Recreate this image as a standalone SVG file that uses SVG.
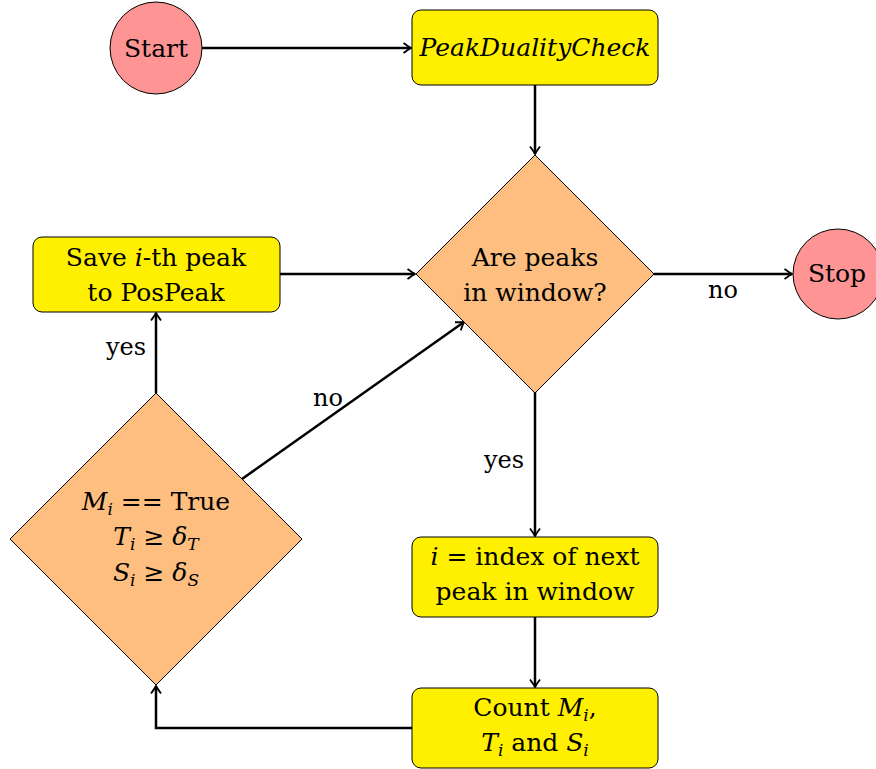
<svg xmlns="http://www.w3.org/2000/svg" width="876" height="769" viewBox="0 0 876 769">
<style>
text{font-size:25px;fill:#000;text-anchor:middle}
.box{fill:#FFF000;stroke:#000;stroke-width:1}
.dec{fill:#FDBE7F;stroke:#000;stroke-width:1}
.term{fill:#FF9494;stroke:#000;stroke-width:1}
.it{font-style:italic}
.sub{font-size:17px;font-style:italic}
.lbl{font-size:24px}
.conn{fill:none;stroke:#000;stroke-width:2.5}
</style>
<defs>
<marker id="arr" markerWidth="12" markerHeight="12" refX="0" refY="0" viewBox="-8 -6 10 12" orient="auto" markerUnits="userSpaceOnUse">
<path d="M-7.5,-5 Q-2,-1 0,0 Q-2,1 -7.5,5" fill="none" stroke="#000" stroke-width="1.8"/>
</marker>
</defs>
<g font-family="DejaVu Serif, serif">
<g id="connectors">
<path class="conn" d="M202 48 H411" marker-end="url(#arr)"/>
<path class="conn" d="M535 85 V154" marker-end="url(#arr)"/>
<path class="conn" d="M280 274 H415" marker-end="url(#arr)"/>
<path class="conn" d="M654 274 H792" marker-end="url(#arr)"/>
<path class="conn" d="M535 392 V536" marker-end="url(#arr)"/>
<path class="conn" d="M535 617 V687" marker-end="url(#arr)"/>
<path class="conn" d="M412 728 H156 V686" marker-end="url(#arr)"/>
<path class="conn" d="M156 393 V313" marker-end="url(#arr)"/>
<path class="conn" d="M242 479 L464 322" marker-end="url(#arr)"/>
<text class="lbl" x="723" y="298">no</text>
<text class="lbl" x="126" y="355">yes</text>
<text class="lbl" x="328" y="406">no</text>
<text class="lbl" x="504" y="468">yes</text>
</g>
<g id="start">
<circle class="term" cx="156" cy="48" r="46"/>
<text x="156" y="57">Start</text>
</g>
<g id="peakcheck">
<rect class="box" x="412" y="10" width="246" height="75" rx="9"/>
<text class="it" x="535" y="56" font-size="24.5">PeakDualityCheck</text>
</g>
<g id="arepeaks">
<polygon class="dec" points="535,155 654,274 535,393 416,274"/>
<text x="535" y="266">Are peaks</text>
<text x="535" y="301">in window?</text>
</g>
<g id="stop">
<circle class="term" cx="838" cy="274" r="45"/>
<text x="837" y="282">Stop</text>
</g>
<g id="save">
<rect class="box" x="33" y="237" width="247" height="75" rx="9"/>
<text x="156" y="266">Save <tspan class="it">i</tspan>-th peak</text>
<text x="156" y="301">to PosPeak</text>
</g>
<g id="condition">
<polygon class="dec" points="156,393 302,539 156,685 10,539"/>
<text x="156" y="510"><tspan class="it">M</tspan><tspan class="sub" dy="5">i</tspan><tspan dy="-5"> == True</tspan></text>
<text x="156" y="545"><tspan class="it">T</tspan><tspan class="sub" dy="5">i</tspan><tspan dy="-5"> ≥ </tspan><tspan class="it">δ</tspan><tspan class="sub" dy="5">T</tspan></text>
<text x="156" y="581"><tspan class="it">S</tspan><tspan class="sub" dy="5">i</tspan><tspan dy="-5"> ≥ </tspan><tspan class="it">δ</tspan><tspan class="sub" dy="5">S</tspan></text>
</g>
<g id="nextindex">
<rect class="box" x="412" y="537" width="246" height="80" rx="9"/>
<text x="535" y="565"><tspan class="it">i</tspan> = index of next</text>
<text x="535" y="600">peak in window</text>
</g>
<g id="count">
<rect class="box" x="412" y="688" width="246" height="80" rx="9"/>
<text x="535" y="716">Count <tspan class="it">M</tspan><tspan class="sub" dy="5">i</tspan><tspan dy="-5">,</tspan></text>
<text x="535" y="751"><tspan class="it">T</tspan><tspan class="sub" dy="5">i</tspan><tspan dy="-5"> and </tspan><tspan class="it">S</tspan><tspan class="sub" dy="5">i</tspan></text>
</g>
</g>
</svg>
